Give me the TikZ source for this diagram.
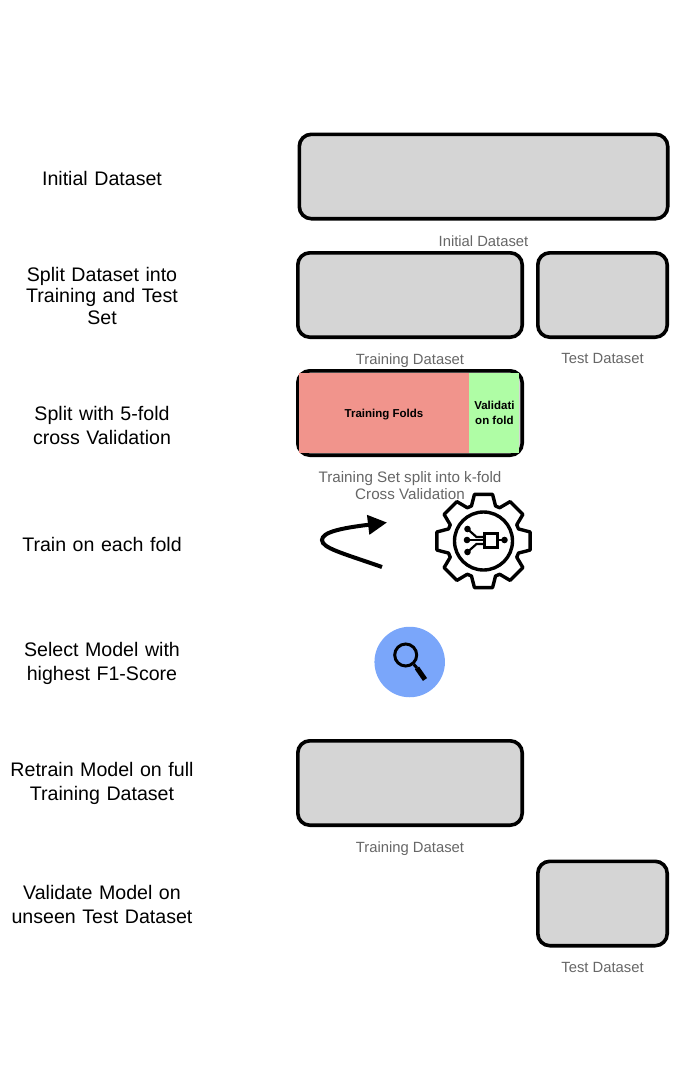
\documentclass[tikz,border=0pt]{standalone}
\usepackage{fontspec}
\setmainfont{Liberation Sans}
\usetikzlibrary{arrows.meta,positioning}
\definecolor{boxgray}{RGB}{213,213,213}
\definecolor{foldred}{RGB}{241,148,140}
\definecolor{foldgreen}{RGB}{175,253,165}
\definecolor{lensblue}{RGB}{122,166,250}
\definecolor{capgray}{RGB}{102,102,102}

\begin{document}
\begin{tikzpicture}[x=1pt, y=-1pt,
    stepnode/.style={align=center, text width=190pt, inner sep=0pt,
                  font=\fontsize{19.6}{24}\selectfont},
    databox/.style={draw=black, fill=boxgray, line width=3.6pt, rounded corners=12pt,
                  minimum height=84.4pt, inner sep=0pt},
    widebox/.style={databox, minimum width=224.4pt},
    smallbox/.style={databox, minimum width=129.4pt},
    capnode/.style={align=center, inner sep=0pt, text=capgray,
                  font=\fontsize{14.8}{17}\selectfont},
    foldnode/.style={minimum height=80pt, inner sep=0pt, align=center,
                  font=\fontsize{11.5}{15.5}\selectfont\bfseries},
    gearline/.style={line width=3.4pt, line join=round, line cap=round}
  ]
    \useasboundingbox (0,0) rectangle (679,1079);
    % row labels
    \node[stepnode] (l1) at (102,178) {Initial Dataset};
    \node[stepnode, font=\fontsize{19.6}{21.5}\selectfont] (l2) at (102,295.5) {Split Dataset into\\Training and Test\\Set};
    \node[stepnode] (l3) at (102,425) {Split with 5-fold\\cross Validation};
    \node[stepnode] (l4) at (102,544) {Train on each fold};
    \node[stepnode] (l5) at (102,663.5) {Select Model with\\highest F1-Score};
    \node[stepnode] (l6) at (102,783.5) {Retrain Model on full\\Training Dataset};
    \node[stepnode] (l7) at (102,904) {Validate Model on\\unseen Test Dataset};
    % data boxes
    \node[databox, minimum width=368.4pt] (init) at (483.5,176.5) {};
    \node[widebox] (train) at (410,295) {};
    \node[smallbox] (test) at (602.5,295) {};
    \node[widebox] (split) at (410,413) {};
    \node[widebox] (retrain) at (410,783) {};
    \node[smallbox] (final) at (602.5,903.5) {};
    \node[foldnode, minimum width=170pt, fill=foldred, text height=12pt] (folds) at (384,413) {Training Folds};
    \node[foldnode, minimum width=50pt, right=0pt of folds, fill=foldgreen, text depth=0pt] (valfold) {Validati\\on fold};
    \node[capnode, below=15pt of init] (c1) {Initial Dataset};
    \node[capnode, below=14.5pt of train] (c2) {Training Dataset};
    \node[capnode, below=14.5pt of test] (c3) {Test Dataset};
    \node[capnode, below=14pt of split, font=\fontsize{15.2}{17}\selectfont] (c4) {Training Set split into k-fold\\Cross Validation};
    \node[capnode, below=14.5pt of retrain] (c5) {Training Dataset};
    \node[capnode, below=14.5pt of final] (c6) {Test Dataset};
    % loop arrow
    \coordinate (loopa) at (382,567);
    \coordinate (loopb) at (387,522.5);
    \draw[line width=4pt, -{Triangle[length=19pt,width=19pt]}] (loopa) .. controls (342,553) and (322,548) .. (322,540) .. controls (322,532) and (342,528) .. (loopb);
    % gear
    \coordinate (gear) at (483.5,541);
    \begin{scope}[shift={(gear)}]
      \draw[gearline] (-19:37) \foreach \a in {0,45,...,315}{
          -- (\a-19:37) -- (\a-11:47.5) -- (\a+11:47.5) -- (\a+19:37)
          arc[start angle=\a+19, end angle=\a+26, radius=37]} -- cycle;
      \draw[gearline] (0,0) circle[radius=29];
      \draw[line width=3pt] (1,-8) rectangle (13.5,6.5);
      \draw[line width=2.2pt] (13.5,-1) -- (20,-1);
      \draw[line width=2.2pt] (-16,-1) -- (1,-1);
      \draw[line width=2.2pt] (-16,-12) -- (-7,-4) -- (1,-4);
      \draw[line width=2.2pt] (-16,11) -- (-7,3) -- (1,3);
      \foreach \p in {(21,-1),(-16.5,-1),(-16,-12),(-16,11)}
        \fill \p circle[radius=3.3];
    \end{scope}
    % search icon
    \node[circle, fill=lensblue, minimum size=70.5pt, inner sep=0pt] (search) at (409.7,662) {};
    \node[circle, draw=black, line width=3pt, minimum size=22pt, inner sep=0pt] (lens) at (405.7,655) {};
    \coordinate (neck) at (417,668);
    \coordinate (handle) at (425,679.5);
    \draw[line width=3pt] (lens) -- (neck);
    \draw[line width=5pt] (neck) -- (handle);
  \end{tikzpicture}
\end{document}
